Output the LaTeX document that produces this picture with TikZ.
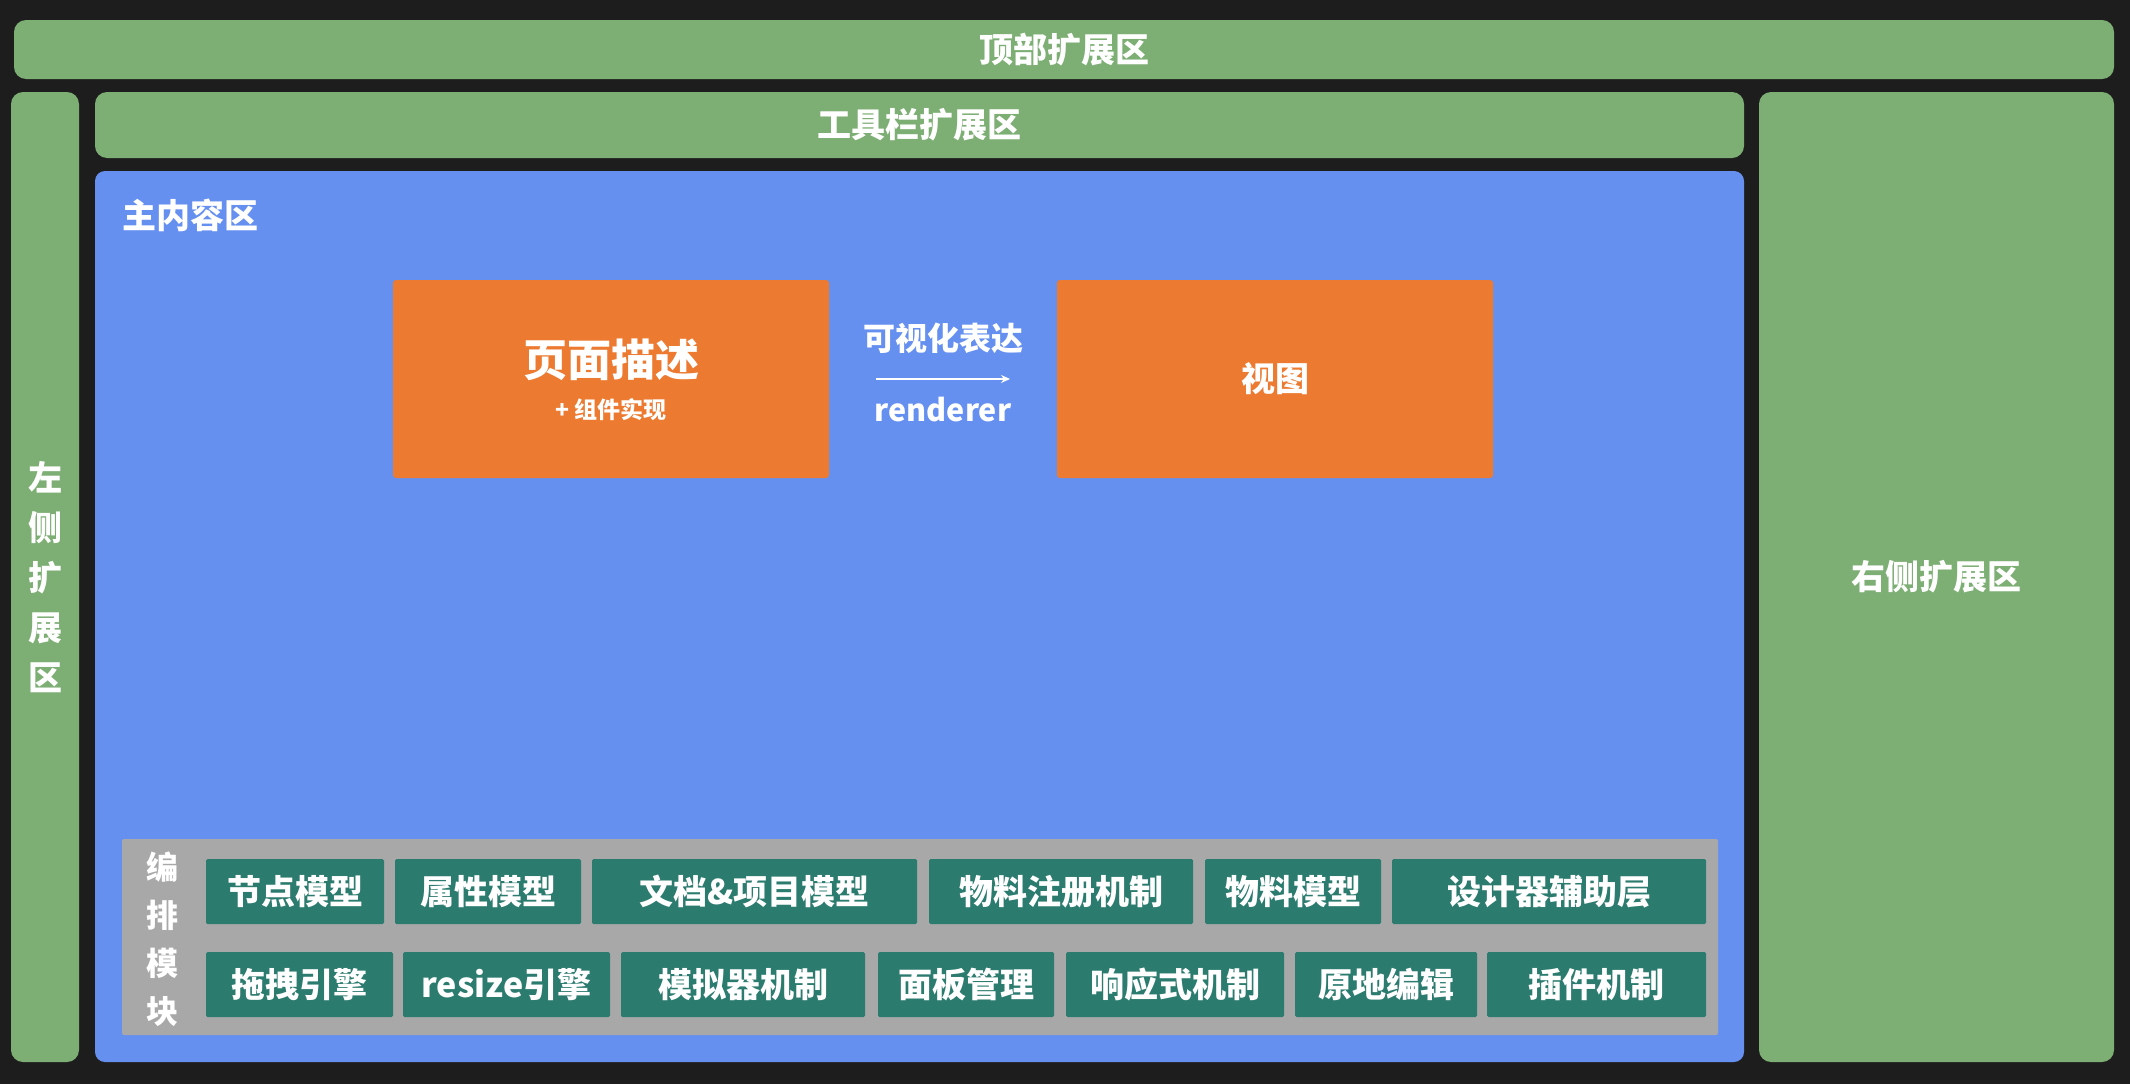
\documentclass[tikz,border=0pt]{standalone}
\usepackage{fontspec}
\setmainfont{Noto Sans CJK SC}
\usetikzlibrary{arrows.meta}
\definecolor{bg}{HTML}{1D1D1D}
\definecolor{grn}{HTML}{7DAE74}
\definecolor{blu}{HTML}{6690F0}
\definecolor{org}{HTML}{EC7A30}
\definecolor{gry}{HTML}{A8A8A8}
\definecolor{tealc}{HTML}{2C7B6F}
\begin{document}
\begin{tikzpicture}[x=1pt,y=-1pt,
  region/.style={draw=none, inner sep=0pt, outer sep=0pt, anchor=north west, text=white,
    font=\bfseries\fontsize{34}{40}\selectfont},
  greenbar/.style={region, fill=grn, rounded corners=12pt},
  mainbox/.style={region, fill=blu, rounded corners=10pt},
  orangebox/.style={region, fill=org, rounded corners=3pt},
  graypanel/.style={region, fill=gry, rounded corners=2pt},
  modbox/.style={region, fill=tealc, rounded corners=1.5pt, minimum height=65pt},
  lbl/.style={inner sep=0pt, outer sep=0pt, text=white, font=\bfseries\fontsize{34}{40}\selectfont},
  vlbl/.style={lbl, align=center, font=\bfseries\fontsize{34}{50}\selectfont},
  arrowline/.style={draw=white, line width=2pt, -{Stealth[length=9pt,width=8pt]}}
]
\fill[bg] (0,0) rectangle (2130,1084);
\useasboundingbox (0,0) rectangle (2130,1084);

\node[greenbar, minimum width=2100pt, minimum height=59pt] (top) at (14,20) {顶部扩展区};
\node[greenbar, minimum width=68pt, minimum height=970pt] (left) at (11,92) {};
\node[vlbl] (leftlbl) at (left.center) {左\\侧\\扩\\展\\区};
\node[greenbar, minimum width=1649pt, minimum height=66pt] (toolbar) at (95,92) {工具栏扩展区};
\node[mainbox, minimum width=1649pt, minimum height=891pt] (main) at (95,171) {};
\node[lbl, anchor=west] (mainlbl) at (122,215) {主内容区};
\node[greenbar, minimum width=355pt, minimum height=970pt] (right) at (1759,92) {右侧扩展区};

\node[orangebox, minimum width=436pt, minimum height=198pt] (desc) at (393,280) {};
\node[lbl, font=\bfseries\fontsize{44}{50}\selectfont] (desclbl) at (611,360) {页面描述};
\node[lbl, font=\bfseries\fontsize{23}{28}\selectfont] (descsub) at (611,410) {+ 组件实现};
\node[orangebox, minimum width=436pt, minimum height=198pt] (view) at (1057,280) {视图};

\coordinate (arrS) at (876,379);
\coordinate (arrE) at (1010,379);
\draw[arrowline] (arrS) -- (arrE);
\node[lbl, font=\bfseries\fontsize{32}{38}\selectfont] (vislbl) at (943,338) {可视化表达};
\node[lbl, font=\bfseries\fontsize{30.5}{36}\selectfont] (renlbl) at (943,410) {renderer};

\node[graypanel, minimum width=1596pt, minimum height=196pt] (panel) at (122,839) {};
\node[vlbl, font=\bfseries\fontsize{32}{48}\selectfont] (panellbl) at (162,939) {编\\排\\模\\块};

\node[modbox, minimum width=178pt] (m1) at (206,859) {节点模型};
\node[modbox, minimum width=186pt] (m2) at (395,859) {属性模型};
\node[modbox, minimum width=325pt] (m3) at (592,859) {文档\&项目模型};
\node[modbox, minimum width=264pt] (m4) at (929,859) {物料注册机制};
\node[modbox, minimum width=176pt] (m5) at (1205,859) {物料模型};
\node[modbox, minimum width=314pt] (m6) at (1392,859) {设计器辅助层};

\node[modbox, minimum width=187pt] (n1) at (206,952) {拖拽引擎};
\node[modbox, minimum width=207pt] (n2) at (403,952) {resize引擎};
\node[modbox, minimum width=244pt] (n3) at (621,952) {模拟器机制};
\node[modbox, minimum width=176pt] (n4) at (878,952) {面板管理};
\node[modbox, minimum width=218pt] (n5) at (1066,952) {响应式机制};
\node[modbox, minimum width=182pt] (n6) at (1295,952) {原地编辑};
\node[modbox, minimum width=219pt] (n7) at (1487,952) {插件机制};
\end{tikzpicture}
\end{document}
